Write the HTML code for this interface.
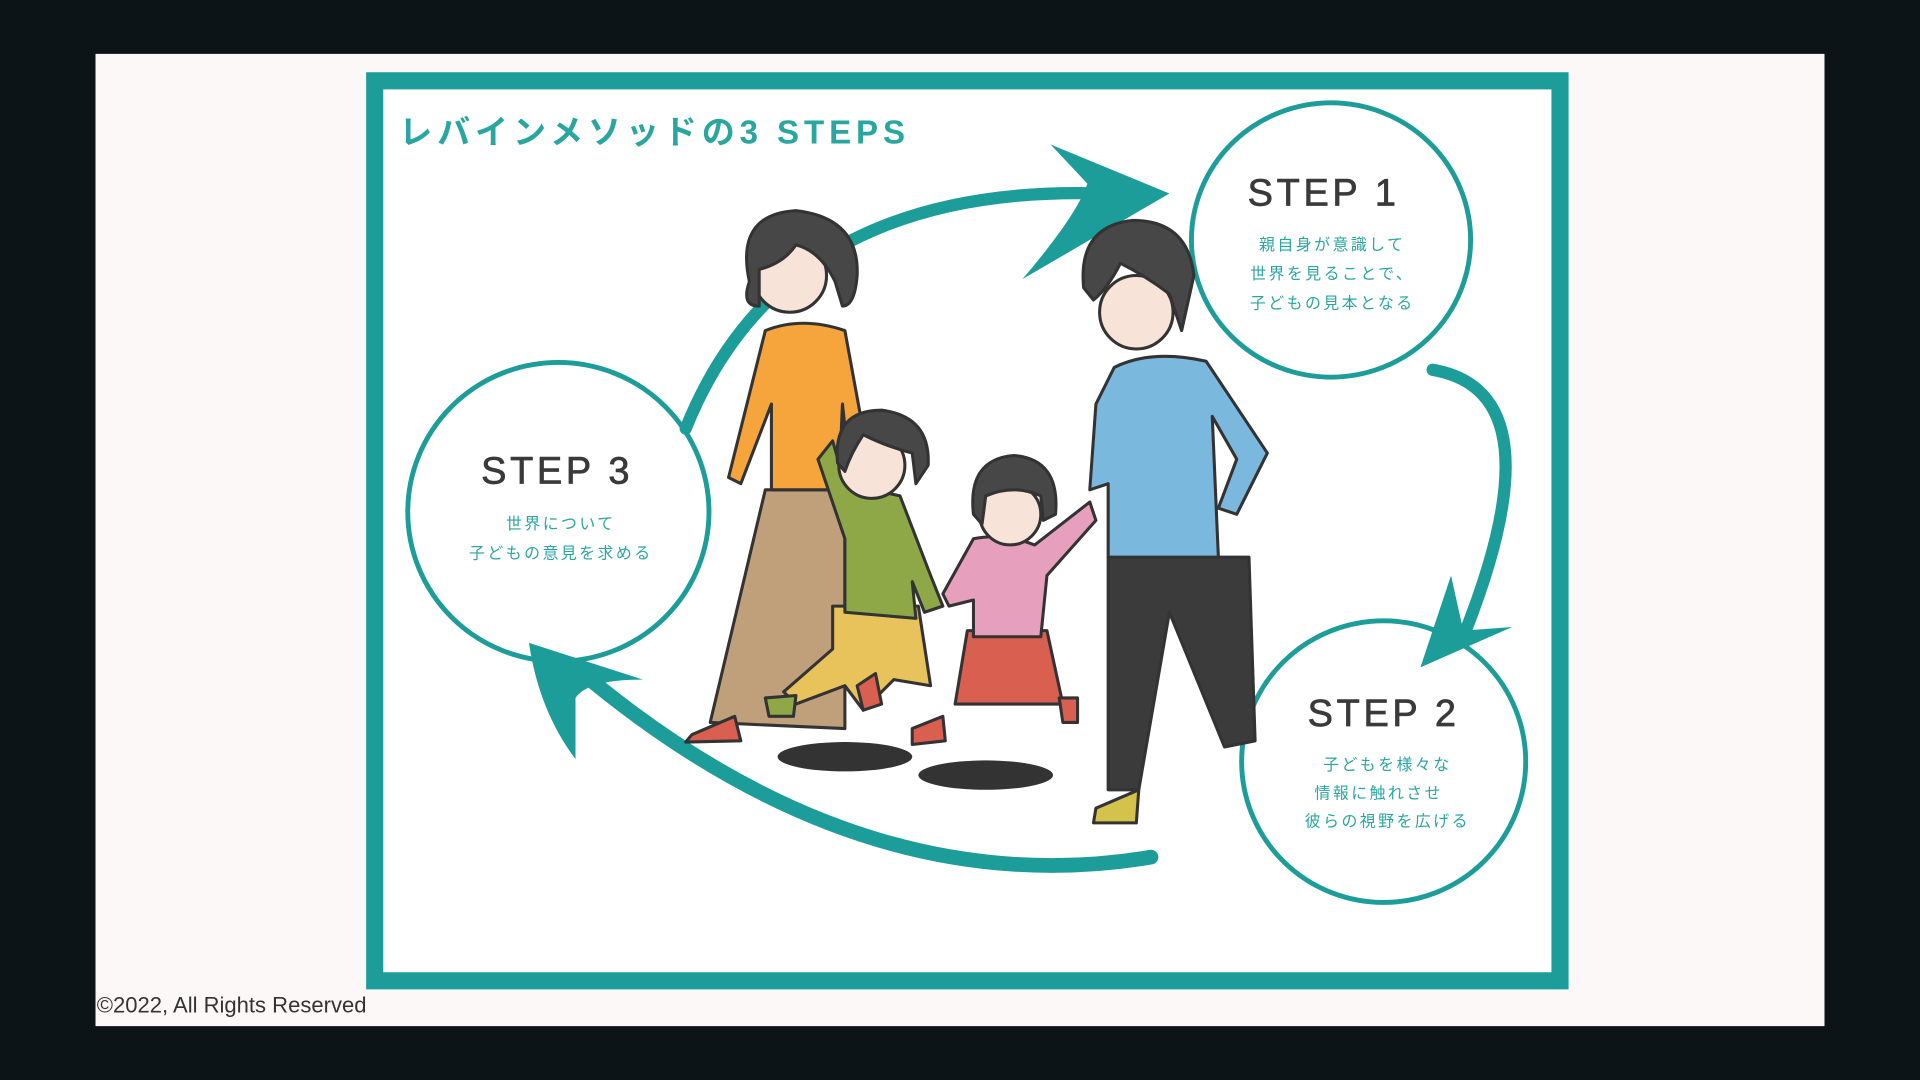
<!DOCTYPE html>
<html><head><meta charset="utf-8"><style>
html,body{margin:0;padding:0;width:1920px;height:1080px;overflow:hidden;background:#0d1417}
svg{display:block}
</style></head><body>
<svg width="1920" height="1080" viewBox="0 0 1568 882" xmlns="http://www.w3.org/2000/svg">
<rect x="0" y="0" width="1568" height="882" fill="#0d1417"/>
<rect x="78" y="44" width="1412" height="794" fill="#fcf8f8"/>
<rect x="306" y="66" width="968" height="735" fill="#fff" stroke="#1c9d99" stroke-width="14"/>
<text x="326" y="117" font-family="'Liberation Sans','Noto Sans CJK JP',sans-serif" font-size="27" fill="#2aa6a0" letter-spacing="4" font-weight="bold">レバインメソッドの3 STEPS</text>

<g fill="none" stroke="#1c9d99" stroke-linecap="round">
<path d="M560 350 Q640 150 900 158" stroke-width="10"/>
<path d="M858 118 L955 158 L835 228 Q880 175 888 150 Z" fill="#1c9d99" stroke="none"/>
<path d="M1170 302 Q1275 320 1195 520" stroke-width="10"/>
<path d="M1160 545 L1185 470 L1195 515 L1235 512 Z" fill="#1c9d99" stroke="none"/>
<path d="M940 700 Q700 740 470 545" stroke-width="12"/>
<path d="M432 525 L525 555 Q480 555 470 570 L470 620 Q440 580 432 525 Z" fill="#1c9d99" stroke="none"/>
<ellipse cx="1087" cy="196" rx="114" ry="112" stroke-width="4"/>
<ellipse cx="456" cy="418" rx="123" ry="122" stroke-width="4"/>
<ellipse cx="1130" cy="622" rx="116" ry="115" stroke-width="4"/>
</g>

<g font-family="'Liberation Sans','Noto Sans CJK JP',sans-serif" text-anchor="middle">
<text x="1081" y="168" font-size="31" fill="#3a3a3a" letter-spacing="3" stroke="#3a3a3a" stroke-width="0.6">STEP 1</text>
<text x="1088" y="204" font-size="13" fill="#2aa6a0" letter-spacing="2">親自身が意識して</text>
<text x="1088" y="228" font-size="13" fill="#2aa6a0" letter-spacing="2">世界を見ることで、</text>
<text x="1088" y="252" font-size="13" fill="#2aa6a0" letter-spacing="2">子どもの見本となる</text>
<text x="455" y="395" font-size="31" fill="#3a3a3a" letter-spacing="3" stroke="#3a3a3a" stroke-width="0.6">STEP 3</text>
<text x="458" y="432" font-size="13" fill="#2aa6a0" letter-spacing="2">世界について</text>
<text x="458" y="456" font-size="13" fill="#2aa6a0" letter-spacing="2">子どもの意見を求める</text>
<text x="1130" y="593" font-size="31" fill="#3a3a3a" letter-spacing="3" stroke="#3a3a3a" stroke-width="0.6">STEP 2</text>
<text x="1133" y="629" font-size="13" fill="#2aa6a0" letter-spacing="2">子どもを様々な</text>
<text x="1126" y="652" font-size="13" fill="#2aa6a0" letter-spacing="2">情報に触れさせ</text>
<text x="1133" y="675" font-size="13" fill="#2aa6a0" letter-spacing="2">彼らの視野を広げる</text>
</g>

<g stroke="#333" stroke-width="2.5" stroke-linejoin="round">
<ellipse cx="690" cy="618" rx="55" ry="12" fill="#333" stroke="none"/>
<ellipse cx="805" cy="633" rx="55" ry="12" fill="#333" stroke="none"/>
<path d="M625 400 L580 590 L690 595 L690 400 Z" fill="#bfa07a"/>
<path d="M565 600 L600 585 L605 605 L560 606 Z" fill="#d95f50"/>
<path d="M625 270 Q655 258 690 270 L712 390 L695 395 L688 330 L685 400 L630 400 L630 330 L605 395 L595 390 Z" fill="#f5a53c"/>
<circle cx="645" cy="225" r="30" fill="#f8e3d8"/>
<path d="M612 230 Q600 175 650 172 Q702 178 700 225 Q698 250 688 250 L682 230 Q670 205 650 200 Q640 215 620 220 L620 250 Q605 250 612 230 Z" fill="#474747"/>
<path d="M905 455 L1020 455 L1025 605 L1000 610 L955 500 L930 645 L905 645 Z" fill="#3b3b3b"/>
<path d="M895 660 L930 645 L928 672 L893 672 Z" fill="#d4c24a"/>
<path d="M910 300 Q940 285 985 295 L1035 370 L1010 420 L995 415 L1010 375 L990 340 L995 455 L905 455 L905 395 L890 400 L895 330 Z" fill="#7ab8de"/>
<circle cx="928" cy="255" r="30" fill="#f8e3d8"/>
<path d="M885 235 Q880 185 925 180 Q970 180 975 225 L965 270 L955 240 Q935 225 915 215 Q905 235 893 245 Z" fill="#474747"/>
<path d="M680 495 L750 495 L760 560 L730 555 L705 580 L690 560 L650 575 L640 565 L680 530 Z" fill="#e8c25a"/>
<path d="M690 395 L735 405 L760 470 L770 495 L755 500 L745 475 L748 505 L690 500 L690 440 L668 375 L680 360 Z" fill="#8fa847"/>
<circle cx="712" cy="380" r="27" fill="#f8e3d8"/>
<path d="M684 378 Q680 335 720 335 Q760 340 758 380 L748 395 L745 370 Q725 365 705 355 Q695 370 690 385 Z" fill="#474747"/>
<path d="M625 570 L650 568 L648 585 L628 585 Z" fill="#8fa847"/>
<path d="M700 560 L715 550 L720 575 L705 580 Z" fill="#d95f50"/>
<path d="M790 515 L855 515 L868 575 L780 575 Z" fill="#d95f50"/>
<path d="M795 440 Q820 435 845 445 L890 410 L895 425 L855 470 L850 520 L795 520 L795 490 L775 495 L770 485 Z" fill="#e6a0bd"/>
<circle cx="825" cy="420" r="25" fill="#f8e3d8"/>
<path d="M795 420 Q790 375 828 372 Q866 375 862 420 L852 425 L850 405 Q828 395 805 405 L802 428 Z" fill="#474747"/>
<path d="M745 595 L770 585 L772 605 L745 608 Z" fill="#d95f50"/>
<path d="M865 570 L880 570 L880 590 L868 590 Z" fill="#d95f50"/>
</g>

<text x="79" y="827" font-family="'Liberation Sans',sans-serif" font-size="18" fill="#333">©2022, All Rights Reserved</text>
</svg>
</body></html>
